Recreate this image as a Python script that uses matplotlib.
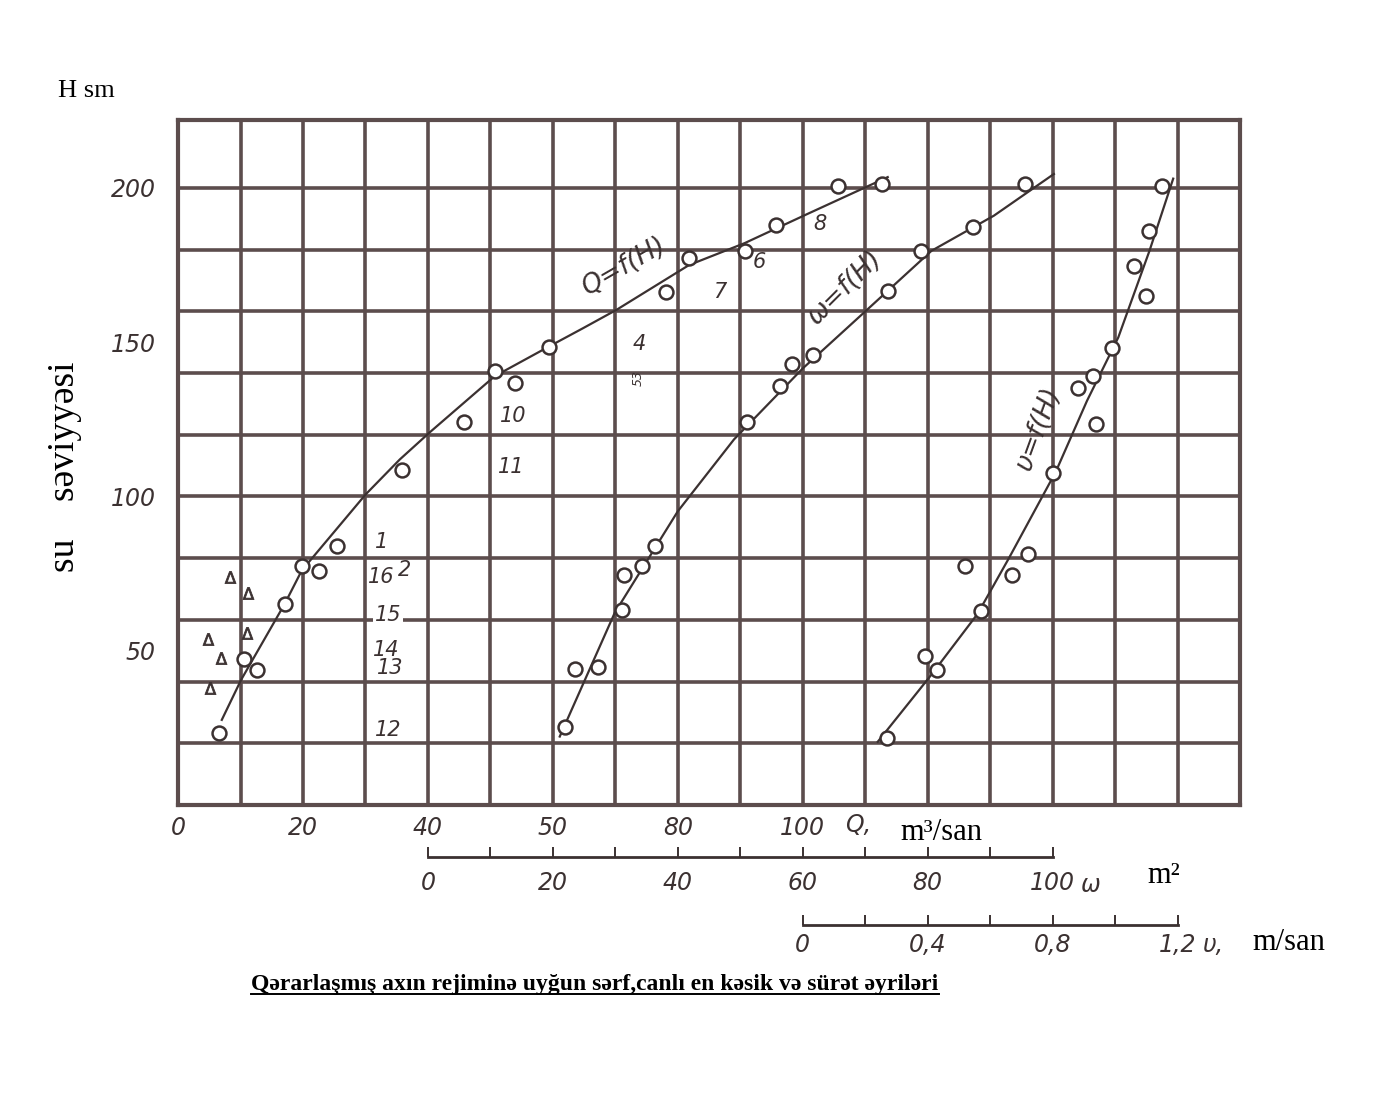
import matplotlib.pyplot as plt
import numpy as np
from matplotlib.lines import Line2D

# Q = f(H): discharge, m3/san
q_obs = [6.6, 10.6, 12.7, 17.1, 19.8, 22.5, 25.4, 35.8, 45.7, 50.7, 53.9, 59.3,
         78.1, 81.8, 90.8, 95.7, 105.7, 112.7]
h_q_obs = [23.5, 47.3, 43.8, 65.3, 77.4, 75.8, 83.8, 108.5, 124.1, 140.7, 136.7, 148.3,
           166.3, 177.2, 179.6, 188.0, 200.5, 201.3]
q_curve = [7.0, 10.1, 17.1, 19.8, 30.0, 35.5, 40.3, 50.7, 59.2, 64.8, 70.2, 81.8,
           90.7, 100.8, 113.6]
h_q_curve = [27.6, 40.6, 65.3, 76.0, 100.6, 112.0, 120.8, 139.0, 148.4, 154.5, 160.5, 175.0,
             182.1, 191.6, 203.5]

# omega = f(H): live cross-section, m2
w_obs = [21.9, 23.6, 27.2, 31.1, 31.4, 34.2, 36.4, 51.1, 56.4, 58.2, 61.7, 73.7, 79.0, 87.3, 95.6]
h_w_obs = [25.2, 44.0, 44.8, 63.3, 74.7, 77.6, 83.8, 124.1, 135.8, 142.9, 145.8, 166.7, 179.6,
           187.2, 201.3]
w_curve = [21.1, 29.9, 40.0, 49.0, 60.0, 70.4, 80.6, 90.6, 100.2]
h_w_curve = [22.2, 62.3, 95.2, 118.5, 141.5, 160.7, 179.6, 191.0, 204.5]

# v = f(H): velocity, m/san
v_obs = [0.27, 0.39, 0.43, 0.52, 0.57, 0.67, 0.72, 0.80, 0.88, 0.93, 0.94, 0.99, 1.06, 1.10,
         1.11, 1.15]
h_v_obs = [21.6, 48.4, 43.6, 77.4, 62.8, 74.7, 81.2, 107.7, 135.3, 139.0, 123.4, 148.0, 174.7,
           165.0, 186.1, 200.5]
v_curve = [0.24, 0.41, 0.56, 0.66, 0.81, 0.91, 1.01, 1.11, 1.186]
h_v_curve = [20.5, 42.0, 62.0, 80.0, 108.0, 131.0, 151.5, 179.6, 203.0]

# triangles (other measurements)
tri_q = [8.3, 11.2, 4.8, 11.0, 6.9, 5.1]
tri_h = [74.0, 68.8, 53.9, 55.8, 47.7, 38.0]

q_ticks = [0, 20, 40, 60, 80, 100]
q_tick_labels = ["0", "20", "40", "50", "80", "100"]
h_ticks = [50, 100, 150, 200]
w_ticks = np.arange(0, 101, 10)
w_tick_labels = ["0", "", "20", "", "40", "", "60", "", "80", "", "100"]
v_ticks = [0, 0.2, 0.4, 0.6, 0.8, 1.0, 1.2]
v_tick_labels = ["0", "", "0,4", "", "0,8", "", "1,2"]

# point numbers written on the sheet
point_labels = [("1", 32.6, 85.4), ("16", 32.6, 74.0), ("2", 36.3, 76.3), ("15", 33.6, 61.7),
                ("14", 33.4, 50.3), ("13", 33.9, 44.5), ("12", 33.6, 24.4), ("11", 53.4, 109.4),
                ("10", 53.6, 126.0), ("7", 86.7, 166.2), ("6", 93.1, 176.0), ("8", 102.7, 188.3),
                ("4", 73.9, 149.5)]

ink = "#3b3131"
grid_ink = "#5c4d4d"
serif = "Liberation Serif"
hand = dict(style="italic", color=ink, family="DejaVu Sans")

fig = plt.figure(figsize=(13.76, 11.04), dpi=100)
ax = fig.add_axes([0.1294, 0.2708, 0.7718, 0.6205])
ax.set_xlim(0, 170)
ax.set_ylim(0, 222)

for x in range(10, 170, 10):
    ax.axvline(x, color=grid_ink, lw=2.6, zorder=1)
for y in range(20, 201, 20):
    ax.axhline(y, color=grid_ink, lw=2.6, zorder=1)
for s in ax.spines.values():
    s.set_color(grid_ink)
    s.set_linewidth(3)

ax.set_xticks(q_ticks, labels=q_tick_labels)
ax.set_yticks(h_ticks, labels=[str(h) for h in h_ticks])
ax.tick_params(length=0)
ax.tick_params(axis="x", pad=8)
ax.tick_params(axis="y", pad=16)
for lab in ax.get_xticklabels() + ax.get_yticklabels():
    lab.set_fontsize(17)
    lab.set_style("italic")
    lab.set_color(ink)

mk = dict(marker="o", ms=10, mfc="white", mec=ink, mew=1.8, ls="none", zorder=4)

ax.plot(q_curve, h_q_curve, color=ink, lw=1.6, zorder=3)
ax.plot(q_obs, h_q_obs, **mk)
ax.scatter(tri_q, tri_h, marker=r"$\Delta$", s=75, color=ink, linewidths=0.6, zorder=4)

ax_w = ax.twiny()
ax_w.set_xlim(-40, 130)
ax_w.axis("off")
ax_w.plot(w_curve, h_w_curve, color=ink, lw=1.6, zorder=3)
ax_w.plot(w_obs, h_w_obs, **mk)

ax_v = ax.twiny()
ax_v.set_xlim(-2.0, 1.4)
ax_v.axis("off")
ax_v.plot(v_curve, h_v_curve, color=ink, lw=1.6, zorder=3)
ax_v.plot(v_obs, h_v_obs, **mk)

for txt, qx, hy in point_labels:
    boxed = txt in ("15", "13")
    ax.text(qx, hy, txt, fontsize=15, ha="center", va="center", zorder=5,
            bbox=dict(fc="white", ec="none", pad=1) if boxed else None, **hand)
ax.text(73.6, 138.5, "53", fontsize=9, rotation=90, ha="center", va="center", **hand)

ax.text(71.5, 174.5, "Q=f(H)", fontsize=19, rotation=30, ha="center", va="center", **hand)
ax.text(106.8, 167.5, "ω=f(H)", fontsize=19, rotation=45, ha="center", va="center", **hand)
ax.text(137.8, 122.0, "υ=f(H)", fontsize=19, rotation=70, ha="center", va="center", **hand)

# omega scale
ax_ws = fig.add_axes([0.1294, 0.2237, 0.7718, 0.01])
ax_ws.set_xlim(-40, 130)
ax_ws.patch.set_visible(False)
for k in ("top", "left", "right"):
    ax_ws.spines[k].set_visible(False)
ax_ws.spines["bottom"].set_bounds(0, 100)
ax_ws.spines["bottom"].set_color(ink)
ax_ws.spines["bottom"].set_linewidth(2)
ax_ws.set_yticks([])
ax_ws.set_xticks(w_ticks, labels=w_tick_labels)
ax_ws.tick_params(axis="x", direction="in", length=7, width=1.4, color=ink, pad=10)
for lab in ax_ws.get_xticklabels():
    lab.set_fontsize(17)
    lab.set_style("italic")
    lab.set_color(ink)

# velocity scale
ax_vs = fig.add_axes([0.1294, 0.1621, 0.7718, 0.01])
ax_vs.set_xlim(-2.0, 1.4)
ax_vs.patch.set_visible(False)
for k in ("top", "left", "right"):
    ax_vs.spines[k].set_visible(False)
ax_vs.spines["bottom"].set_bounds(0, 1.2)
ax_vs.spines["bottom"].set_color(ink)
ax_vs.spines["bottom"].set_linewidth(2)
ax_vs.set_yticks([])
ax_vs.set_xticks(v_ticks, labels=v_tick_labels)
ax_vs.tick_params(axis="x", direction="in", length=7, width=1.4, color=ink, pad=6)
for lab in ax_vs.get_xticklabels():
    lab.set_fontsize(17)
    lab.set_style("italic")
    lab.set_color(ink)

# axis captions
fig.text(0.0625, 0.918, "H sm", fontsize=19, family=serif, ha="center", va="center")
fig.text(0.047, 0.577, "su    səviyyəsi", fontsize=27, family=serif, rotation=90,
         ha="center", va="center")
fig.text(0.6235, 0.2527, "Q,", fontsize=17, ha="center", va="center", **hand)
fig.text(0.6845, 0.2455, "m³/san", fontsize=22, family=serif, ha="center", va="center")
fig.text(0.7925, 0.1984, "ω", fontsize=17, ha="center", va="center", **hand)
fig.text(0.8455, 0.2074, "m²", fontsize=22, family=serif, ha="center", va="center")
fig.text(0.8815, 0.1440, "υ,", fontsize=17, ha="center", va="center", **hand)
fig.text(0.9365, 0.1467, "m/san", fontsize=22, family=serif, ha="center", va="center")

title = fig.text(0.4324, 0.1078, "Qərarlaşmış axın rejiminə uyğun sərf,canlı en kəsik və sürət əyriləri",
                 fontsize=17, family=serif, weight="bold", ha="center", va="center")
fig.canvas.draw()
bb = title.get_window_extent().transformed(fig.transFigure.inverted())
fig.add_artist(Line2D([bb.x0, bb.x1], [bb.y0 + 0.001, bb.y0 + 0.001], color="black", lw=1.4))

fig.savefig("out.png", dpi=100, facecolor="white")
